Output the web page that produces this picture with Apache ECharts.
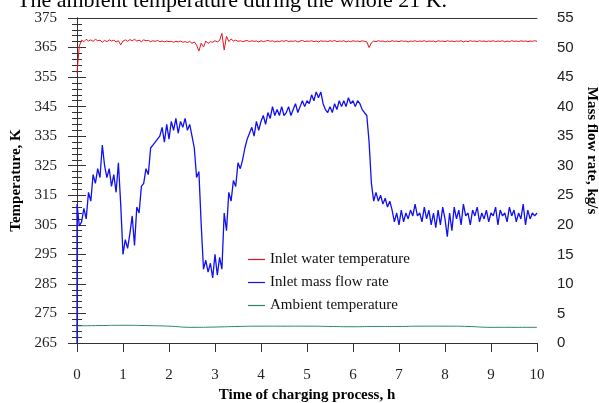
<!DOCTYPE html>
<html>
<head>
<meta charset="utf-8">
<script src="https://cdn.jsdelivr.net/npm/echarts@6/dist/echarts.min.js"></script>
<style>
  html, body { margin: 0; padding: 0; background: #fff; }
  #chart { width: 599px; height: 403px; }
</style>
</head>
<body>
<div id="chart"></div>
<script>
// sampling step of the logged data, h
var dt = 0.05
var dtAmb = 0.5

// inlet water temperature, K (every 0.05 h)
var waterTemp = [
  356.5, 365.5, 367.5, 367.0, 367.8, 367.2, 367.6, 367.1, 367.8, 367.3,
  367.5, 366.8, 367.4, 367.0, 367.6, 367.2, 367.5, 366.9, 367.3, 365.9,
  367.2, 367.6, 367.1, 367.7, 367.3, 367.8, 367.2, 367.5, 367.0, 367.6,
  367.3, 367.4, 367.0, 367.3, 367.1, 367.4, 367.0, 367.2, 366.9, 367.2,
  367.0, 367.1, 366.8, 367.1, 366.9, 367.2, 366.8, 367.0, 366.7, 367.1,
  366.4, 366.9, 365.8, 363.8, 366.5, 365.2, 367.2, 366.4, 367.0, 366.8,
  367.3, 366.9, 367.4, 369.8, 364.2, 368.8, 367.0, 367.9, 367.2, 367.5,
  367.1, 367.3, 367.0, 367.2, 367.4, 367.0, 367.3, 367.1, 367.2, 366.9,
  367.3, 367.0, 367.2, 367.4, 367.1, 367.3, 366.9, 367.2, 367.0, 367.3,
  367.1, 367.4, 367.0, 367.2, 367.1, 367.3, 366.9, 367.2, 367.4, 367.0,
  367.2, 367.1, 367.3, 367.0, 367.2, 366.9, 367.3, 367.1, 367.2, 367.0,
  367.3, 367.1, 367.4, 367.0, 367.2, 367.1, 367.3, 366.9, 367.2, 367.0,
  367.3, 367.1, 367.2, 367.0, 367.3, 367.1, 366.9, 365.0, 366.6, 367.2,
  367.0, 367.3, 367.1, 367.2, 366.9, 367.2, 367.0, 367.3, 367.1, 367.2,
  367.0, 367.3, 367.1, 367.2, 366.9, 367.2, 367.1, 367.3, 367.0, 367.2,
  367.1, 367.3, 367.0, 367.2, 367.1, 367.2, 366.9, 367.3, 367.1, 367.2,
  367.0, 367.3, 367.1, 367.2, 367.0, 367.2, 367.1, 367.3, 366.9, 367.2,
  367.0, 367.3, 367.1, 367.2, 367.0, 367.3, 367.1, 367.2, 367.0, 367.2,
  367.1, 367.3, 367.0, 367.2, 367.1, 367.3, 366.9, 367.2, 367.0, 367.3,
  367.1, 367.2, 367.0, 367.3, 367.1, 367.2, 367.0, 367.2, 367.1, 367.3,
  367.1
]

// inlet mass flow rate, kg/s (every 0.05 h)
var massFlow = [
  23.5, 19.8, 20.5, 22.8, 21.0, 25.5, 24.0, 28.5, 27.0, 29.5,
  28.0, 33.5, 30.0, 28.0, 29.5, 26.5, 28.5, 25.5, 30.5, 23.5,
  15.0, 17.5, 16.0, 18.5, 21.5, 16.5, 23.0, 22.0, 26.5, 27.0,
  29.5, 28.5, 33.0, 33.5, 34.0, 34.5, 35.0, 36.5, 34.0, 37.0,
  34.5, 37.5, 36.0, 38.0, 35.5, 37.5, 36.5, 38.0, 36.0, 37.0,
  35.0, 33.0, 28.0, 29.0, 20.0, 12.5, 14.0, 12.0, 13.5, 11.0,
  15.0, 11.5, 14.5, 12.5, 22.0, 19.0, 25.5, 24.0, 27.5, 26.5,
  30.5, 29.5, 31.0, 33.0, 34.5, 35.5, 36.5, 35.0, 37.5, 36.0,
  37.5, 38.5, 37.0, 39.0, 38.0, 40.0, 38.5, 39.5, 38.5, 40.0,
  38.5, 39.0, 40.0, 38.5, 39.5, 40.5, 39.0, 40.0, 41.0, 40.0,
  41.0, 40.5, 42.0, 41.0, 42.5, 41.5, 42.5, 40.5, 39.5, 39.0,
  40.0, 39.0, 40.5, 39.5, 41.0, 40.0, 41.0, 40.0, 41.5, 40.5,
  41.0, 40.0, 41.0, 40.5, 39.5, 39.0, 38.5, 34.0, 27.0, 24.0,
  25.5, 24.0, 25.0, 23.5, 24.5, 23.0, 24.0, 22.5, 20.5, 22.0,
  20.0, 22.5, 20.5, 22.0, 21.0, 22.5, 21.5, 23.5, 21.5, 22.0,
  20.5, 23.0, 21.0, 22.5, 20.0, 22.0, 19.5, 22.5, 20.0, 23.0,
  21.0, 18.0, 22.0, 19.0, 23.0, 21.0, 22.5, 20.0, 23.5, 21.5,
  22.0, 20.0, 22.5, 21.5, 23.0, 20.5, 22.0, 21.0, 22.5, 20.5,
  22.0, 21.5, 23.0, 20.0, 22.5, 21.5, 22.0, 20.5, 23.0, 21.5,
  22.5, 20.5, 22.0, 21.0, 23.5, 20.0, 22.5, 21.0, 22.0, 21.5,
  22.0
]

// ambient temperature, K (every 0.5 h)
var ambientTemp = [
  270.8, 270.9, 271.0, 270.9, 270.7, 270.3, 270.4, 270.6, 270.7, 270.7,
  270.7, 270.6, 270.5, 270.6, 270.6, 270.7, 270.7, 270.6, 270.3, 270.3,
  270.3
]

var xTicks = [0, 1, 2, 3, 4, 5, 6, 7, 8, 9, 10]
var legendNames = ['Inlet water temperature', 'Inlet mass flow rate', 'Ambient temperature']

var serif = '"Liberation Serif", "Times New Roman", serif'
var sans = '"Liberation Sans", Arial, sans-serif'

function toPairs(arr, step) {
  return arr.map(function (v, i) { return [+(i * step).toFixed(3), v] })
}

var flowData = [[0, 0]].concat(toPairs(massFlow, dt))

var myChart = echarts.init(document.getElementById('chart'))

var option = {
  animation: false,
  title: {
    text: 'The ambient temperature during the whole 21 K.',
    left: 12,
    top: -15,
    textStyle: { fontFamily: serif, fontSize: 22, fontWeight: 'normal', color: '#000' }
  },
  legend: {
    data: legendNames,
    orient: 'vertical',
    left: 243,
    top: 247,
    itemGap: 8,
    icon: 'rect',
    itemWidth: 17,
    itemHeight: 1.2,
    textStyle: { fontFamily: serif, fontSize: 15, color: '#111' }
  },
  grid: { left: 77, right: 62, top: 18, bottom: 60, outerBoundsMode: 'none', containLabel: false },
  xAxis: [
    {
      type: 'value',
      min: xTicks[0],
      max: xTicks[xTicks.length - 1],
      interval: 1,
      name: 'Time of charging process, h',
      nameLocation: 'middle',
      nameGap: 45,
      nameTextStyle: { fontFamily: serif, fontSize: 15, fontWeight: 'bold', color: '#000' },
      axisLine: { lineStyle: { color: '#333', width: 1 } },
      axisTick: { length: 9, lineStyle: { color: '#333' } },
      axisLabel: { margin: 25, fontFamily: serif, fontSize: 15, color: '#222' },
      splitLine: { show: false }
    },
    {
      type: 'value',
      position: 'top',
      min: 0,
      max: 10,
      axisLine: { show: true, lineStyle: { color: '#333', width: 1 } },
      axisTick: { show: false },
      axisLabel: { show: false },
      splitLine: { show: false }
    }
  ],
  yAxis: [
    {
      type: 'value',
      min: 265,
      max: 375,
      interval: 10,
      name: 'Temperature, K',
      nameLocation: 'middle',
      nameGap: 52,
      nameTextStyle: { fontFamily: serif, fontSize: 15, fontWeight: 'bold', color: '#000' },
      axisLine: { show: true, lineStyle: { color: '#333', width: 1 } },
      axisTick: { show: true, length: 9, lineStyle: { color: '#333' } },
      minorTick: { show: true, splitNumber: 5, length: 5, lineStyle: { color: '#333' } },
      axisLabel: { margin: 20, fontFamily: serif, fontSize: 15, color: '#222' },
      splitLine: { show: false }
    },
    {
      type: 'value',
      min: 0,
      max: 55,
      interval: 5,
      position: 'right',
      name: 'Mass flow rate, kg/s',
      nameLocation: 'middle',
      nameRotate: -90,
      nameGap: 43,
      nameTextStyle: { fontFamily: serif, fontSize: 15, fontWeight: 'bold', color: '#000', padding: [0, 60, 0, 0] },
      axisLine: { show: true, lineStyle: { color: '#333', width: 1 } },
      axisTick: { show: true, length: 9, lineStyle: { color: '#333' } },
      minorTick: { show: true, splitNumber: 5, length: 5, lineStyle: { color: '#333' } },
      axisLabel: { margin: 20, fontFamily: sans, fontSize: 15, color: '#222' },
      splitLine: { show: false }
    }
  ],
  series: [
    {
      name: legendNames[0],
      type: 'line',
      yAxisIndex: 0,
      showSymbol: false,
      symbol: 'none',
      lineStyle: { color: '#e8141c', width: 1 },
      itemStyle: { color: '#e8141c' },
      data: toPairs(waterTemp, dt)
    },
    {
      name: legendNames[1],
      type: 'line',
      yAxisIndex: 1,
      showSymbol: false,
      symbol: 'none',
      lineStyle: { color: '#1010f0', width: 1.3 },
      itemStyle: { color: '#1010f0' },
      data: flowData
    },
    {
      name: legendNames[2],
      type: 'line',
      yAxisIndex: 0,
      showSymbol: false,
      symbol: 'none',
      smooth: true,
      lineStyle: { color: '#2f8566', width: 1 },
      itemStyle: { color: '#2f8566' },
      data: toPairs(ambientTemp, dtAmb)
    }
  ]
}

myChart.setOption(option)
</script>
</body>
</html>
